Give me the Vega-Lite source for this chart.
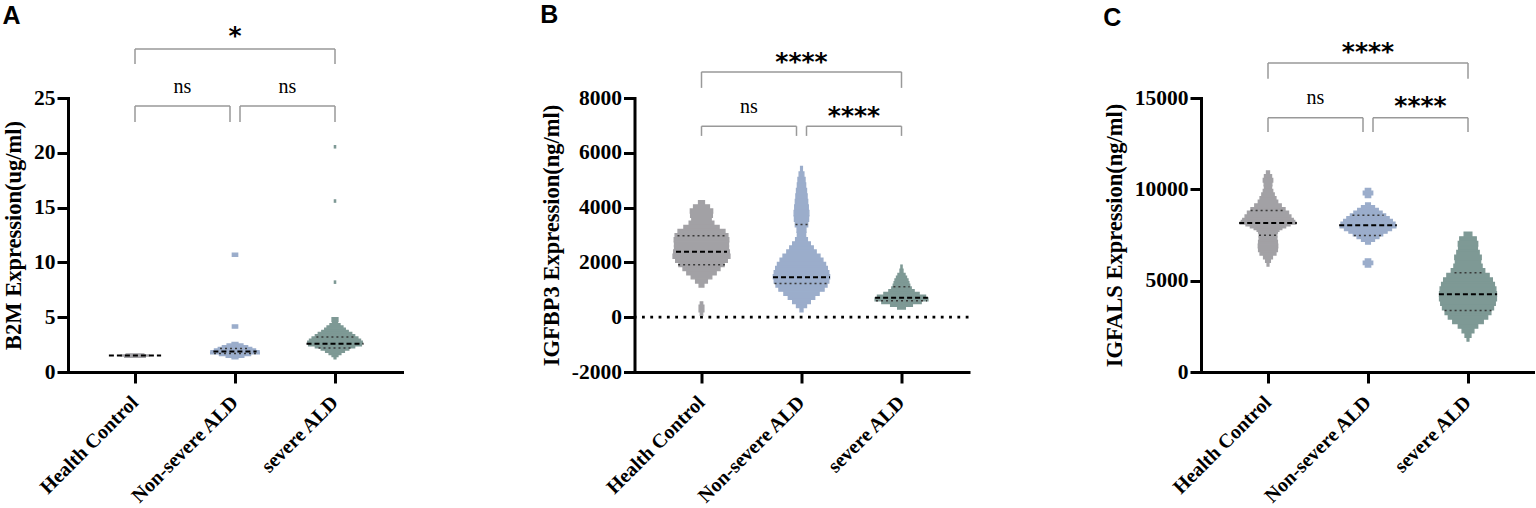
{
"$schema":"https://vega.github.io/schema/vega-lite/v6.json",
"background":"white",
"padding":{"left":2,"top":2,"right":0,"bottom":0},
"spacing":232.5,
"bounds":"flush",
"datasets":{
"vA":[
{"g":"Health Control","lo":1.35,"hi":1.45,"d":0.35},{"g":"Health Control","lo":1.45,"hi":1.55,"d":0.47},{"g":"Health Control","lo":1.55,"hi":1.65,"d":0.3},
{"g":"Non-severe ALD","lo":2.55,"hi":2.7,"d":0.1},{"g":"Non-severe ALD","lo":2.4,"hi":2.55,"d":0.27},{"g":"Non-severe ALD","lo":2.25,"hi":2.4,"d":0.43},{"g":"Non-severe ALD","lo":2.1,"hi":2.25,"d":0.57},{"g":"Non-severe ALD","lo":1.95,"hi":2.1,"d":0.7},{"g":"Non-severe ALD","lo":1.8,"hi":1.95,"d":0.82},{"g":"Non-severe ALD","lo":1.65,"hi":1.8,"d":0.83},{"g":"Non-severe ALD","lo":1.5,"hi":1.65,"d":0.53},{"g":"Non-severe ALD","lo":1.35,"hi":1.5,"d":0.3},{"g":"Non-severe ALD","lo":1.2,"hi":1.35,"d":0.1},{"g":"Non-severe ALD","lo":4.0,"hi":4.3,"d":0.09},{"g":"Non-severe ALD","lo":10.55,"hi":10.85,"d":0.09},
{"g":"severe ALD","lo":4.6,"hi":4.95,"d":0.1},{"g":"severe ALD","lo":4.4,"hi":4.6,"d":0.08},{"g":"severe ALD","lo":4.2,"hi":4.4,"d":0.17},{"g":"severe ALD","lo":4.0,"hi":4.2,"d":0.27},{"g":"severe ALD","lo":3.8,"hi":4.0,"d":0.35},{"g":"severe ALD","lo":3.6,"hi":3.8,"d":0.45},{"g":"severe ALD","lo":3.4,"hi":3.6,"d":0.57},{"g":"severe ALD","lo":3.2,"hi":3.4,"d":0.67},{"g":"severe ALD","lo":3.0,"hi":3.2,"d":0.78},{"g":"severe ALD","lo":2.8,"hi":3.0,"d":0.87},{"g":"severe ALD","lo":2.6,"hi":2.8,"d":0.93},{"g":"severe ALD","lo":2.4,"hi":2.6,"d":0.9},{"g":"severe ALD","lo":2.2,"hi":2.4,"d":0.67},{"g":"severe ALD","lo":2.0,"hi":2.2,"d":0.47},{"g":"severe ALD","lo":1.8,"hi":2.0,"d":0.32},{"g":"severe ALD","lo":1.6,"hi":1.8,"d":0.2},{"g":"severe ALD","lo":1.4,"hi":1.6,"d":0.1},{"g":"severe ALD","lo":1.2,"hi":1.4,"d":0.03},{"g":"severe ALD","lo":8.1,"hi":8.3,"d":0.02},{"g":"severe ALD","lo":15.5,"hi":15.7,"d":0.02},{"g":"severe ALD","lo":20.45,"hi":20.65,"d":0.02}
],
"vB":[
{"g":"Health Control","lo":4100,"hi":4250,"d":0.1},{"g":"Health Control","lo":3950,"hi":4100,"d":0.27},{"g":"Health Control","lo":3800,"hi":3950,"d":0.38},{"g":"Health Control","lo":3650,"hi":3800,"d":0.37},{"g":"Health Control","lo":3500,"hi":3650,"d":0.33},{"g":"Health Control","lo":3350,"hi":3500,"d":0.42},{"g":"Health Control","lo":3200,"hi":3350,"d":0.6},{"g":"Health Control","lo":3050,"hi":3200,"d":0.8},{"g":"Health Control","lo":2900,"hi":3050,"d":0.9},{"g":"Health Control","lo":2750,"hi":2900,"d":0.93},{"g":"Health Control","lo":2600,"hi":2750,"d":0.92},{"g":"Health Control","lo":2450,"hi":2600,"d":0.92},{"g":"Health Control","lo":2300,"hi":2450,"d":0.95},{"g":"Health Control","lo":2150,"hi":2300,"d":0.97},{"g":"Health Control","lo":2000,"hi":2150,"d":0.88},{"g":"Health Control","lo":1850,"hi":2000,"d":0.77},{"g":"Health Control","lo":1700,"hi":1850,"d":0.63},{"g":"Health Control","lo":1550,"hi":1700,"d":0.5},{"g":"Health Control","lo":1400,"hi":1550,"d":0.35},{"g":"Health Control","lo":1250,"hi":1400,"d":0.2},{"g":"Health Control","lo":1100,"hi":1250,"d":0.08},{"g":"Health Control","lo":70,"hi":200,"d":0.04},{"g":"Health Control","lo":200,"hi":440,"d":0.08},{"g":"Health Control","lo":440,"hi":560,"d":0.04},
{"g":"Non-severe ALD","lo":5300,"hi":5500,"d":0.03},{"g":"Non-severe ALD","lo":5100,"hi":5300,"d":0.08},{"g":"Non-severe ALD","lo":4900,"hi":5100,"d":0.12},{"g":"Non-severe ALD","lo":4700,"hi":4900,"d":0.14},{"g":"Non-severe ALD","lo":4500,"hi":4700,"d":0.17},{"g":"Non-severe ALD","lo":4300,"hi":4500,"d":0.19},{"g":"Non-severe ALD","lo":4100,"hi":4300,"d":0.21},{"g":"Non-severe ALD","lo":3900,"hi":4100,"d":0.23},{"g":"Non-severe ALD","lo":3700,"hi":3900,"d":0.25},{"g":"Non-severe ALD","lo":3500,"hi":3700,"d":0.24},{"g":"Non-severe ALD","lo":3300,"hi":3500,"d":0.21},{"g":"Non-severe ALD","lo":3100,"hi":3300,"d":0.15},{"g":"Non-severe ALD","lo":2900,"hi":3100,"d":0.14},{"g":"Non-severe ALD","lo":2750,"hi":2900,"d":0.2},{"g":"Non-severe ALD","lo":2600,"hi":2750,"d":0.3},{"g":"Non-severe ALD","lo":2450,"hi":2600,"d":0.4},{"g":"Non-severe ALD","lo":2300,"hi":2450,"d":0.5},{"g":"Non-severe ALD","lo":2150,"hi":2300,"d":0.63},{"g":"Non-severe ALD","lo":2000,"hi":2150,"d":0.73},{"g":"Non-severe ALD","lo":1850,"hi":2000,"d":0.82},{"g":"Non-severe ALD","lo":1700,"hi":1850,"d":0.88},{"g":"Non-severe ALD","lo":1550,"hi":1700,"d":0.93},{"g":"Non-severe ALD","lo":1400,"hi":1550,"d":0.96},{"g":"Non-severe ALD","lo":1250,"hi":1400,"d":0.93},{"g":"Non-severe ALD","lo":1100,"hi":1250,"d":0.87},{"g":"Non-severe ALD","lo":950,"hi":1100,"d":0.77},{"g":"Non-severe ALD","lo":800,"hi":950,"d":0.6},{"g":"Non-severe ALD","lo":650,"hi":800,"d":0.45},{"g":"Non-severe ALD","lo":500,"hi":650,"d":0.3},{"g":"Non-severe ALD","lo":350,"hi":500,"d":0.17},{"g":"Non-severe ALD","lo":200,"hi":350,"d":0.05},
{"g":"severe ALD","lo":1750,"hi":1900,"d":0.02},{"g":"severe ALD","lo":1600,"hi":1750,"d":0.05},{"g":"severe ALD","lo":1500,"hi":1600,"d":0.12},{"g":"severe ALD","lo":1400,"hi":1500,"d":0.17},{"g":"severe ALD","lo":1300,"hi":1400,"d":0.22},{"g":"severe ALD","lo":1200,"hi":1300,"d":0.25},{"g":"severe ALD","lo":1100,"hi":1200,"d":0.28},{"g":"severe ALD","lo":1000,"hi":1100,"d":0.33},{"g":"severe ALD","lo":900,"hi":1000,"d":0.43},{"g":"severe ALD","lo":800,"hi":900,"d":0.6},{"g":"severe ALD","lo":700,"hi":800,"d":0.82},{"g":"severe ALD","lo":600,"hi":700,"d":0.9},{"g":"severe ALD","lo":500,"hi":600,"d":0.67},{"g":"severe ALD","lo":400,"hi":500,"d":0.37},{"g":"severe ALD","lo":300,"hi":400,"d":0.13}
],
"vC":[
{"g":"Health Control","lo":10800,"hi":11000,"d":0.05},{"g":"Health Control","lo":10600,"hi":10800,"d":0.12},{"g":"Health Control","lo":10400,"hi":10600,"d":0.16},{"g":"Health Control","lo":10200,"hi":10400,"d":0.13},{"g":"Health Control","lo":10000,"hi":10200,"d":0.12},{"g":"Health Control","lo":9800,"hi":10000,"d":0.16},{"g":"Health Control","lo":9600,"hi":9800,"d":0.21},{"g":"Health Control","lo":9400,"hi":9600,"d":0.27},{"g":"Health Control","lo":9200,"hi":9400,"d":0.33},{"g":"Health Control","lo":9000,"hi":9200,"d":0.45},{"g":"Health Control","lo":8800,"hi":9000,"d":0.58},{"g":"Health Control","lo":8600,"hi":8800,"d":0.7},{"g":"Health Control","lo":8400,"hi":8600,"d":0.78},{"g":"Health Control","lo":8300,"hi":8400,"d":0.86},{"g":"Health Control","lo":8200,"hi":8300,"d":0.91},{"g":"Health Control","lo":8100,"hi":8200,"d":0.95},{"g":"Health Control","lo":8000,"hi":8100,"d":0.75},{"g":"Health Control","lo":7900,"hi":8000,"d":0.6},{"g":"Health Control","lo":7800,"hi":7900,"d":0.47},{"g":"Health Control","lo":7700,"hi":7800,"d":0.37},{"g":"Health Control","lo":7600,"hi":7700,"d":0.32},{"g":"Health Control","lo":7400,"hi":7600,"d":0.3},{"g":"Health Control","lo":7200,"hi":7400,"d":0.3},{"g":"Health Control","lo":7000,"hi":7200,"d":0.32},{"g":"Health Control","lo":6800,"hi":7000,"d":0.33},{"g":"Health Control","lo":6600,"hi":6800,"d":0.32},{"g":"Health Control","lo":6400,"hi":6600,"d":0.27},{"g":"Health Control","lo":6200,"hi":6400,"d":0.15},{"g":"Health Control","lo":6000,"hi":6200,"d":0.08},{"g":"Health Control","lo":5800,"hi":6000,"d":0.03},
{"g":"Non-severe ALD","lo":9900,"hi":10050,"d":0.09},{"g":"Non-severe ALD","lo":9700,"hi":9900,"d":0.16},{"g":"Non-severe ALD","lo":9550,"hi":9700,"d":0.09},{"g":"Non-severe ALD","lo":9100,"hi":9250,"d":0.08},{"g":"Non-severe ALD","lo":8950,"hi":9100,"d":0.22},{"g":"Non-severe ALD","lo":8800,"hi":8950,"d":0.35},{"g":"Non-severe ALD","lo":8650,"hi":8800,"d":0.48},{"g":"Non-severe ALD","lo":8500,"hi":8650,"d":0.6},{"g":"Non-severe ALD","lo":8350,"hi":8500,"d":0.72},{"g":"Non-severe ALD","lo":8200,"hi":8350,"d":0.83},{"g":"Non-severe ALD","lo":8050,"hi":8200,"d":0.92},{"g":"Non-severe ALD","lo":7900,"hi":8050,"d":0.95},{"g":"Non-severe ALD","lo":7750,"hi":7900,"d":0.8},{"g":"Non-severe ALD","lo":7600,"hi":7750,"d":0.65},{"g":"Non-severe ALD","lo":7450,"hi":7600,"d":0.5},{"g":"Non-severe ALD","lo":7300,"hi":7450,"d":0.37},{"g":"Non-severe ALD","lo":7150,"hi":7300,"d":0.22},{"g":"Non-severe ALD","lo":7000,"hi":7150,"d":0.08},{"g":"Non-severe ALD","lo":6060,"hi":6190,"d":0.09},{"g":"Non-severe ALD","lo":5880,"hi":6060,"d":0.16},{"g":"Non-severe ALD","lo":5750,"hi":5880,"d":0.09},
{"g":"severe ALD","lo":7400,"hi":7650,"d":0.13},{"g":"severe ALD","lo":7150,"hi":7400,"d":0.28},{"g":"severe ALD","lo":6900,"hi":7150,"d":0.33},{"g":"severe ALD","lo":6650,"hi":6900,"d":0.32},{"g":"severe ALD","lo":6400,"hi":6650,"d":0.38},{"g":"severe ALD","lo":6150,"hi":6400,"d":0.45},{"g":"severe ALD","lo":5900,"hi":6150,"d":0.43},{"g":"severe ALD","lo":5650,"hi":5900,"d":0.48},{"g":"severe ALD","lo":5400,"hi":5650,"d":0.57},{"g":"severe ALD","lo":5150,"hi":5400,"d":0.72},{"g":"severe ALD","lo":4900,"hi":5150,"d":0.83},{"g":"severe ALD","lo":4650,"hi":4900,"d":0.9},{"g":"severe ALD","lo":4400,"hi":4650,"d":0.95},{"g":"severe ALD","lo":4150,"hi":4400,"d":0.97},{"g":"severe ALD","lo":3900,"hi":4150,"d":0.97},{"g":"severe ALD","lo":3650,"hi":3900,"d":0.93},{"g":"severe ALD","lo":3400,"hi":3650,"d":0.87},{"g":"severe ALD","lo":3150,"hi":3400,"d":0.78},{"g":"severe ALD","lo":2900,"hi":3150,"d":0.67},{"g":"severe ALD","lo":2650,"hi":2900,"d":0.52},{"g":"severe ALD","lo":2400,"hi":2650,"d":0.33},{"g":"severe ALD","lo":2150,"hi":2400,"d":0.2},{"g":"severe ALD","lo":1900,"hi":2150,"d":0.1},{"g":"severe ALD","lo":1700,"hi":1900,"d":0.03}
],
"sA":[
{"g":"Health Control","k":"m","v":1.5,"d":0.87},
{"g":"Non-severe ALD","k":"m","v":1.88,"d":0.72},{"g":"Non-severe ALD","k":"q","v":2.15,"d":0.5},{"g":"Non-severe ALD","k":"q","v":1.68,"d":0.7},
{"g":"severe ALD","k":"m","v":2.58,"d":0.95},{"g":"severe ALD","k":"q","v":3.2,"d":0.62},{"g":"severe ALD","k":"q","v":2.2,"d":0.55}
],
"sB":[
{"g":"Health Control","k":"m","v":2390,"d":0.85},{"g":"Health Control","k":"q","v":2975,"d":0.8},{"g":"Health Control","k":"q","v":1910,"d":0.78},
{"g":"Non-severe ALD","k":"m","v":1460,"d":0.95},{"g":"Non-severe ALD","k":"q","v":3380,"d":0.2},{"g":"Non-severe ALD","k":"q","v":1228,"d":0.9},
{"g":"severe ALD","k":"m","v":710,"d":0.88},{"g":"severe ALD","k":"q","v":1107,"d":0.27},{"g":"severe ALD","k":"q","v":600,"d":0.85}
],
"sC":[
{"g":"Health Control","k":"m","v":8157,"d":0.96},{"g":"Health Control","k":"q","v":8847,"d":0.58},{"g":"Health Control","k":"q","v":7490,"d":0.3},
{"g":"Non-severe ALD","k":"m","v":8028,"d":0.96},{"g":"Non-severe ALD","k":"q","v":8576,"d":0.52},{"g":"Non-severe ALD","k":"q","v":7478,"d":0.47},
{"g":"severe ALD","k":"m","v":4250,"d":0.97},{"g":"severe ALD","k":"q","v":5436,"d":0.45},{"g":"severe ALD","k":"q","v":3360,"d":0.78}
],
"bA":[
{"b":"T","from":"Health Control","to":"severe ALD","top":29.47,"leg":28.1,"ly":29.9,"label":"*"},
{"b":"L","from":"Health Control","to":"Non-severe ALD","top":24.27,"leg":22.81,"ly":25.48,"label":"ns"},
{"b":"R","from":"Non-severe ALD","to":"severe ALD","top":24.27,"leg":22.81,"ly":25.48,"label":"ns"}
],
"bB":[
{"b":"T","from":"Health Control","to":"severe ALD","top":8953,"leg":8369,"ly":9031,"label":"****"},
{"b":"L","from":"Health Control","to":"Non-severe ALD","top":6971,"leg":6617,"ly":7456,"label":"ns"},
{"b":"R","from":"Non-severe ALD","to":"severe ALD","top":6971,"leg":6617,"ly":7060,"label":"****"}
],
"bC":[
{"b":"T","from":"Health Control","to":"severe ALD","top":16916,"leg":16057,"ly":17099,"label":"****"},
{"b":"L","from":"Health Control","to":"Non-severe ALD","top":13921,"leg":13139,"ly":14688,"label":"ns"},
{"b":"R","from":"Non-severe ALD","to":"severe ALD","top":13921,"leg":13139,"ly":14127,"label":"****"}
],
"zero":[{"v":0}]
},
"hconcat":[
{"width":334,"height":274,"title":{"text":"A","offset":-4.5},
"resolve":{"scale":{"size":"independent"}},
"layer":[
{"data":{"name":"vA"},"mark":{"type":"bar","strokeWidth":1.4},"encoding":{
"x":{"field":"g","type":"nominal","scale":{"domain":["Health Control","Non-severe ALD","severe ALD"],"paddingInner":0,"paddingOuter":0.17},"axis":{"title":null}},
"y":{"field":"lo","type":"quantitative","scale":{"domain":[0,25],"nice":false},"axis":{"title":"B2M Expression(ug/ml)","values":[0,5,10,15,20,25]}},
"y2":{"field":"hi"},
"size":{"field":"d","type":"quantitative","scale":{"domain":[0,1],"range":[0,58.6]},"legend":null},
"color":{"field":"g","type":"nominal","scale":{"domain":["Health Control","Non-severe ALD","severe ALD"],"range":["#a2a1a5","#9badcb","#7e9995"]},"legend":null},
"stroke":{"field":"g","type":"nominal","scale":{"domain":["Health Control","Non-severe ALD","severe ALD"],"range":["#a2a1a5","#9badcb","#7e9995"]},"legend":null}}},
{"data":{"name":"sA"},"transform":[{"filter":"datum.k=='q'"}],"mark":{"type":"point","shape":"stroke","filled":false,"color":"#3a3a3a","strokeWidth":1.5,"strokeDash":[2,3],"opacity":1},"encoding":{"x":{"field":"g","type":"nominal"},"y":{"field":"v","type":"quantitative","scale":{"domain":[0,25]}},"size":{"field":"d","type":"quantitative","scale":{"type":"pow","exponent":2,"domain":[0,1],"range":[0,3600]},"legend":null}}},
{"data":{"name":"sA"},"transform":[{"filter":"datum.k=='m'"}],"mark":{"type":"point","shape":"stroke","filled":false,"color":"black","strokeWidth":2,"strokeDash":[5,3],"opacity":1},"encoding":{"x":{"field":"g","type":"nominal"},"y":{"field":"v","type":"quantitative","scale":{"domain":[0,25]}},"size":{"field":"d","type":"quantitative","scale":{"type":"pow","exponent":2,"domain":[0,1],"range":[0,3600]},"legend":null}}},
{"data":{"name":"bA"},"transform":[{"filter":"datum.b=='T'"}],"mark":{"type":"rule","color":"#999999","strokeWidth":1.5},"encoding":{"x":{"field":"from","type":"nominal"},"x2":{"field":"to"},"y":{"field":"top","type":"quantitative","scale":{"domain":[0,25]}}}},
{"data":{"name":"bA"},"transform":[{"filter":"datum.b=='L'"}],"mark":{"type":"rule","color":"#999999","strokeWidth":1.5,"x2Offset":-5},"encoding":{"x":{"field":"from","type":"nominal"},"x2":{"field":"to"},"y":{"field":"top","type":"quantitative","scale":{"domain":[0,25]}}}},
{"data":{"name":"bA"},"transform":[{"filter":"datum.b=='R'"}],"mark":{"type":"rule","color":"#999999","strokeWidth":1.5,"xOffset":5},"encoding":{"x":{"field":"from","type":"nominal"},"x2":{"field":"to"},"y":{"field":"top","type":"quantitative","scale":{"domain":[0,25]}}}},
{"data":{"name":"bA"},"transform":[{"filter":"datum.b!='R'"}],"mark":{"type":"rule","color":"#999999","strokeWidth":1.5},"encoding":{"x":{"field":"from","type":"nominal"},"y":{"field":"top","type":"quantitative","scale":{"domain":[0,25]}},"y2":{"field":"leg"}}},
{"data":{"name":"bA"},"transform":[{"filter":"datum.b=='R'"}],"mark":{"type":"rule","color":"#999999","strokeWidth":1.5,"xOffset":5},"encoding":{"x":{"field":"from","type":"nominal"},"y":{"field":"top","type":"quantitative","scale":{"domain":[0,25]}},"y2":{"field":"leg"}}},
{"data":{"name":"bA"},"transform":[{"filter":"datum.b!='L'"}],"mark":{"type":"rule","color":"#999999","strokeWidth":1.5},"encoding":{"x":{"field":"to","type":"nominal"},"y":{"field":"top","type":"quantitative","scale":{"domain":[0,25]}},"y2":{"field":"leg"}}},
{"data":{"name":"bA"},"transform":[{"filter":"datum.b=='L'"}],"mark":{"type":"rule","color":"#999999","strokeWidth":1.5,"xOffset":-5},"encoding":{"x":{"field":"to","type":"nominal"},"y":{"field":"top","type":"quantitative","scale":{"domain":[0,25]}},"y2":{"field":"leg"}}},
{"data":{"name":"bA"},"transform":[{"filter":"datum.b=='T'"}],"mark":{"type":"text","font":"DejaVu Sans","fontWeight":"bold","fontSize":25,"baseline":"alphabetic","align":"center","dx":100,"color":"black"},"encoding":{"x":{"field":"from","type":"nominal"},"y":{"field":"ly","type":"quantitative","scale":{"domain":[0,25]}},"text":{"field":"label"}}},
{"data":{"name":"bA"},"transform":[{"filter":"datum.b=='L'"}],"mark":{"type":"text","font":"Liberation Serif","fontSize":20,"baseline":"alphabetic","align":"center","dx":47.5,"color":"black"},"encoding":{"x":{"field":"from","type":"nominal"},"y":{"field":"ly","type":"quantitative","scale":{"domain":[0,25]}},"text":{"field":"label"}}},
{"data":{"name":"bA"},"transform":[{"filter":"datum.b=='R'"}],"mark":{"type":"text","font":"Liberation Serif","fontSize":20,"baseline":"alphabetic","align":"center","dx":52.5,"color":"black"},"encoding":{"x":{"field":"from","type":"nominal"},"y":{"field":"ly","type":"quantitative","scale":{"domain":[0,25]}},"text":{"field":"label"}}}
]},
{"width":334,"height":274,"title":{"text":"B","offset":21.8},
"resolve":{"scale":{"size":"independent"}},
"layer":[
{"data":{"name":"zero"},"mark":{"type":"rule","color":"black","strokeWidth":2.8,"strokeDash":[2.8,5.5]},"encoding":{"y":{"field":"v","type":"quantitative","scale":{"domain":[-2000,8000],"nice":false}}}},
{"data":{"name":"vB"},"mark":{"type":"bar","strokeWidth":1.4},"encoding":{
"x":{"field":"g","type":"nominal","scale":{"domain":["Health Control","Non-severe ALD","severe ALD"],"paddingInner":0,"paddingOuter":0.17},"axis":{"title":null}},
"y":{"field":"lo","type":"quantitative","scale":{"domain":[-2000,8000],"nice":false},"axis":{"title":"IGFBP3 Expression(ng/ml)","values":[-2000,0,2000,4000,6000,8000]}},
"y2":{"field":"hi"},
"size":{"field":"d","type":"quantitative","scale":{"domain":[0,1],"range":[0,58.6]},"legend":null},
"color":{"field":"g","type":"nominal","scale":{"domain":["Health Control","Non-severe ALD","severe ALD"],"range":["#a2a1a5","#9badcb","#7e9995"]},"legend":null},
"stroke":{"field":"g","type":"nominal","scale":{"domain":["Health Control","Non-severe ALD","severe ALD"],"range":["#a2a1a5","#9badcb","#7e9995"]},"legend":null}}},
{"data":{"name":"sB"},"transform":[{"filter":"datum.k=='q'"}],"mark":{"type":"point","shape":"stroke","filled":false,"color":"#3a3a3a","strokeWidth":1.5,"strokeDash":[2,3],"opacity":1},"encoding":{"x":{"field":"g","type":"nominal"},"y":{"field":"v","type":"quantitative","scale":{"domain":[-2000,8000]}},"size":{"field":"d","type":"quantitative","scale":{"type":"pow","exponent":2,"domain":[0,1],"range":[0,3600]},"legend":null}}},
{"data":{"name":"sB"},"transform":[{"filter":"datum.k=='m'"}],"mark":{"type":"point","shape":"stroke","filled":false,"color":"black","strokeWidth":2,"strokeDash":[5,3],"opacity":1},"encoding":{"x":{"field":"g","type":"nominal"},"y":{"field":"v","type":"quantitative","scale":{"domain":[-2000,8000]}},"size":{"field":"d","type":"quantitative","scale":{"type":"pow","exponent":2,"domain":[0,1],"range":[0,3600]},"legend":null}}},
{"data":{"name":"bB"},"transform":[{"filter":"datum.b=='T'"}],"mark":{"type":"rule","color":"#999999","strokeWidth":1.5},"encoding":{"x":{"field":"from","type":"nominal"},"x2":{"field":"to"},"y":{"field":"top","type":"quantitative","scale":{"domain":[-2000,8000]}}}},
{"data":{"name":"bB"},"transform":[{"filter":"datum.b=='L'"}],"mark":{"type":"rule","color":"#999999","strokeWidth":1.5,"x2Offset":-5},"encoding":{"x":{"field":"from","type":"nominal"},"x2":{"field":"to"},"y":{"field":"top","type":"quantitative","scale":{"domain":[-2000,8000]}}}},
{"data":{"name":"bB"},"transform":[{"filter":"datum.b=='R'"}],"mark":{"type":"rule","color":"#999999","strokeWidth":1.5,"xOffset":5},"encoding":{"x":{"field":"from","type":"nominal"},"x2":{"field":"to"},"y":{"field":"top","type":"quantitative","scale":{"domain":[-2000,8000]}}}},
{"data":{"name":"bB"},"transform":[{"filter":"datum.b!='R'"}],"mark":{"type":"rule","color":"#999999","strokeWidth":1.5},"encoding":{"x":{"field":"from","type":"nominal"},"y":{"field":"top","type":"quantitative","scale":{"domain":[-2000,8000]}},"y2":{"field":"leg"}}},
{"data":{"name":"bB"},"transform":[{"filter":"datum.b=='R'"}],"mark":{"type":"rule","color":"#999999","strokeWidth":1.5,"xOffset":5},"encoding":{"x":{"field":"from","type":"nominal"},"y":{"field":"top","type":"quantitative","scale":{"domain":[-2000,8000]}},"y2":{"field":"leg"}}},
{"data":{"name":"bB"},"transform":[{"filter":"datum.b!='L'"}],"mark":{"type":"rule","color":"#999999","strokeWidth":1.5},"encoding":{"x":{"field":"to","type":"nominal"},"y":{"field":"top","type":"quantitative","scale":{"domain":[-2000,8000]}},"y2":{"field":"leg"}}},
{"data":{"name":"bB"},"transform":[{"filter":"datum.b=='L'"}],"mark":{"type":"rule","color":"#999999","strokeWidth":1.5,"xOffset":-5},"encoding":{"x":{"field":"to","type":"nominal"},"y":{"field":"top","type":"quantitative","scale":{"domain":[-2000,8000]}},"y2":{"field":"leg"}}},
{"data":{"name":"bB"},"transform":[{"filter":"datum.b=='T'"}],"mark":{"type":"text","font":"DejaVu Sans","fontWeight":"bold","fontSize":25,"baseline":"alphabetic","align":"center","dx":100,"color":"black"},"encoding":{"x":{"field":"from","type":"nominal"},"y":{"field":"ly","type":"quantitative","scale":{"domain":[-2000,8000]}},"text":{"field":"label"}}},
{"data":{"name":"bB"},"transform":[{"filter":"datum.b=='L'"}],"mark":{"type":"text","font":"Liberation Serif","fontSize":20,"baseline":"alphabetic","align":"center","dx":47.5,"color":"black"},"encoding":{"x":{"field":"from","type":"nominal"},"y":{"field":"ly","type":"quantitative","scale":{"domain":[-2000,8000]}},"text":{"field":"label"}}},
{"data":{"name":"bB"},"transform":[{"filter":"datum.b=='R'"}],"mark":{"type":"text","font":"DejaVu Sans","fontWeight":"bold","fontSize":25,"baseline":"alphabetic","align":"center","dx":52.5,"color":"black"},"encoding":{"x":{"field":"from","type":"nominal"},"y":{"field":"ly","type":"quantitative","scale":{"domain":[-2000,8000]}},"text":{"field":"label"}}}
]},
{"width":334,"height":274,"title":{"text":"C","offset":8.2},
"resolve":{"scale":{"size":"independent"}},
"layer":[
{"data":{"name":"vC"},"mark":{"type":"bar","strokeWidth":1.4},"encoding":{
"x":{"field":"g","type":"nominal","scale":{"domain":["Health Control","Non-severe ALD","severe ALD"],"paddingInner":0,"paddingOuter":0.17},"axis":{"title":null}},
"y":{"field":"lo","type":"quantitative","scale":{"domain":[0,15000],"nice":false},"axis":{"title":"IGFALS Expression(ng/ml)","values":[0,5000,10000,15000]}},
"y2":{"field":"hi"},
"size":{"field":"d","type":"quantitative","scale":{"domain":[0,1],"range":[0,58.6]},"legend":null},
"color":{"field":"g","type":"nominal","scale":{"domain":["Health Control","Non-severe ALD","severe ALD"],"range":["#a2a1a5","#9badcb","#7e9995"]},"legend":null},
"stroke":{"field":"g","type":"nominal","scale":{"domain":["Health Control","Non-severe ALD","severe ALD"],"range":["#a2a1a5","#9badcb","#7e9995"]},"legend":null}}},
{"data":{"name":"sC"},"transform":[{"filter":"datum.k=='q'"}],"mark":{"type":"point","shape":"stroke","filled":false,"color":"#3a3a3a","strokeWidth":1.5,"strokeDash":[2,3],"opacity":1},"encoding":{"x":{"field":"g","type":"nominal"},"y":{"field":"v","type":"quantitative","scale":{"domain":[0,15000]}},"size":{"field":"d","type":"quantitative","scale":{"type":"pow","exponent":2,"domain":[0,1],"range":[0,3600]},"legend":null}}},
{"data":{"name":"sC"},"transform":[{"filter":"datum.k=='m'"}],"mark":{"type":"point","shape":"stroke","filled":false,"color":"black","strokeWidth":2,"strokeDash":[5,3],"opacity":1},"encoding":{"x":{"field":"g","type":"nominal"},"y":{"field":"v","type":"quantitative","scale":{"domain":[0,15000]}},"size":{"field":"d","type":"quantitative","scale":{"type":"pow","exponent":2,"domain":[0,1],"range":[0,3600]},"legend":null}}},
{"data":{"name":"bC"},"transform":[{"filter":"datum.b=='T'"}],"mark":{"type":"rule","color":"#999999","strokeWidth":1.5},"encoding":{"x":{"field":"from","type":"nominal"},"x2":{"field":"to"},"y":{"field":"top","type":"quantitative","scale":{"domain":[0,15000]}}}},
{"data":{"name":"bC"},"transform":[{"filter":"datum.b=='L'"}],"mark":{"type":"rule","color":"#999999","strokeWidth":1.5,"x2Offset":-5},"encoding":{"x":{"field":"from","type":"nominal"},"x2":{"field":"to"},"y":{"field":"top","type":"quantitative","scale":{"domain":[0,15000]}}}},
{"data":{"name":"bC"},"transform":[{"filter":"datum.b=='R'"}],"mark":{"type":"rule","color":"#999999","strokeWidth":1.5,"xOffset":5},"encoding":{"x":{"field":"from","type":"nominal"},"x2":{"field":"to"},"y":{"field":"top","type":"quantitative","scale":{"domain":[0,15000]}}}},
{"data":{"name":"bC"},"transform":[{"filter":"datum.b!='R'"}],"mark":{"type":"rule","color":"#999999","strokeWidth":1.5},"encoding":{"x":{"field":"from","type":"nominal"},"y":{"field":"top","type":"quantitative","scale":{"domain":[0,15000]}},"y2":{"field":"leg"}}},
{"data":{"name":"bC"},"transform":[{"filter":"datum.b=='R'"}],"mark":{"type":"rule","color":"#999999","strokeWidth":1.5,"xOffset":5},"encoding":{"x":{"field":"from","type":"nominal"},"y":{"field":"top","type":"quantitative","scale":{"domain":[0,15000]}},"y2":{"field":"leg"}}},
{"data":{"name":"bC"},"transform":[{"filter":"datum.b!='L'"}],"mark":{"type":"rule","color":"#999999","strokeWidth":1.5},"encoding":{"x":{"field":"to","type":"nominal"},"y":{"field":"top","type":"quantitative","scale":{"domain":[0,15000]}},"y2":{"field":"leg"}}},
{"data":{"name":"bC"},"transform":[{"filter":"datum.b=='L'"}],"mark":{"type":"rule","color":"#999999","strokeWidth":1.5,"xOffset":-5},"encoding":{"x":{"field":"to","type":"nominal"},"y":{"field":"top","type":"quantitative","scale":{"domain":[0,15000]}},"y2":{"field":"leg"}}},
{"data":{"name":"bC"},"transform":[{"filter":"datum.b=='T'"}],"mark":{"type":"text","font":"DejaVu Sans","fontWeight":"bold","fontSize":25,"baseline":"alphabetic","align":"center","dx":100,"color":"black"},"encoding":{"x":{"field":"from","type":"nominal"},"y":{"field":"ly","type":"quantitative","scale":{"domain":[0,15000]}},"text":{"field":"label"}}},
{"data":{"name":"bC"},"transform":[{"filter":"datum.b=='L'"}],"mark":{"type":"text","font":"Liberation Serif","fontSize":20,"baseline":"alphabetic","align":"center","dx":47.5,"color":"black"},"encoding":{"x":{"field":"from","type":"nominal"},"y":{"field":"ly","type":"quantitative","scale":{"domain":[0,15000]}},"text":{"field":"label"}}},
{"data":{"name":"bC"},"transform":[{"filter":"datum.b=='R'"}],"mark":{"type":"text","font":"DejaVu Sans","fontWeight":"bold","fontSize":25,"baseline":"alphabetic","align":"center","dx":52.5,"color":"black"},"encoding":{"x":{"field":"from","type":"nominal"},"y":{"field":"ly","type":"quantitative","scale":{"domain":[0,15000]}},"text":{"field":"label"}}}
]}
],
"config":{
"view":{"stroke":null},
"axis":{"domainColor":"black","domainWidth":3,"domainCap":"square","tickColor":"black","tickWidth":3,"tickSize":11,"labelFont":"Liberation Serif","labelFontWeight":"bold","labelFontSize":21.5,"labelColor":"black","titleFont":"Liberation Serif","titleFontWeight":"bold","titleFontSize":22.5,"titleColor":"black","grid":false,"labelPadding":2,"titlePadding":8},
"axisX":{"labelAngle":-45,"labelFontSize":20,"labelAlign":"right","labelBaseline":"top","labelOffset":-7,"labelPadding":9},
"axisY":{"labelExpr":"'' + datum.value"},
"title":{"font":"Liberation Sans","fontWeight":"bold","fontSize":25,"anchor":"start","frame":"bounds","color":"black","baseline":"alphabetic"}
}
}
